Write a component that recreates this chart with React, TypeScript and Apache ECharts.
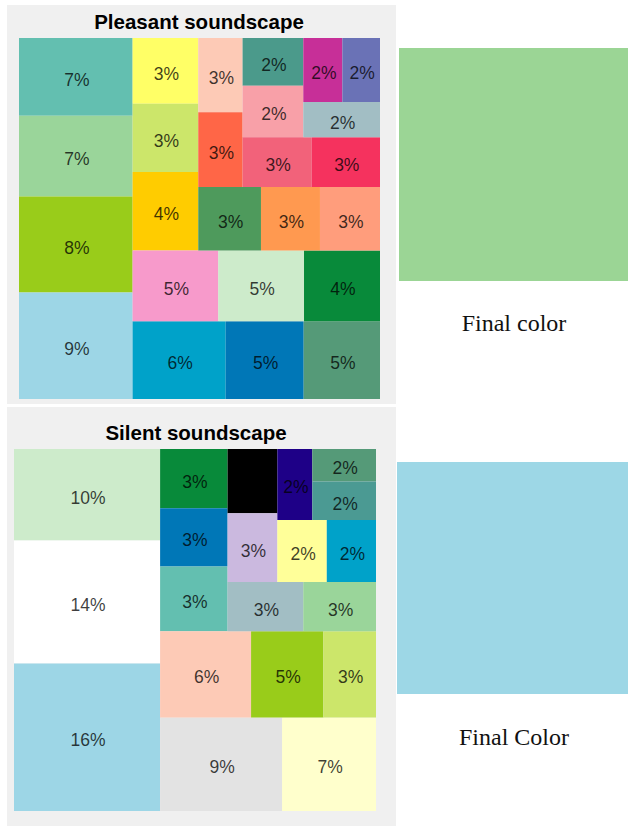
import React, { useEffect, useRef } from "react";
import * as echarts from "echarts";

// ---------- Pleasant soundscape (shares in %) ----------
const pLeft = [6.78, 7.04, 8.38, 9.28];
const pLeftColors = ["#63BFB0", "#9AD59A", "#99CC1A", "#9DD6E6"];
const pCol1 = [3.31, 3.45, 3.95];
const pCol1Colors = ["#FFFF66", "#CCE66A", "#FFCC00"];
const pCol2 = [2.53, 2.54];
const pCol2Colors = ["#FDCAB6", "#FF6647"];
const pCol3 = [2.22, 2.41];
const pCol3Colors = ["#4B9A8B", "#F8A0A8"];
const pTopRight = [1.92, 1.85, 2.08];
const pTopRightColors = ["#C72F98", "#6A72B6", "#A2BEC4"];
const pRow3 = [2.63, 2.61];
const pRow3Colors = ["#F2627A", "#F5325E"];
const pRow4 = [3.05, 2.87, 2.92];
const pRow4Colors = ["#4E9A5C", "#FF9950", "#FF9D7C"];
const pRow5 = [4.67, 4.67, 4.14];
const pRow5Colors = ["#F79ACB", "#CDEBCB", "#088A3A"];
const pRow6 = [5.55, 4.65, 4.55];
const pRow6Colors = ["#00A2C9", "#0077B7", "#559A78"];

// ---------- Silent soundscape (shares in %) ----------
const sLeft = [10.21, 13.71, 16.47];
const sLeftColors = ["#CDEBCB", "#FFFFFF", "#9DD6E6"];
const sCol = [3.05, 3.01, 3.33];
const sColColors = ["#088A3A", "#0077B7", "#63BFB0"];
const sMidCol = [2.44, 2.61];
const sMidColColors = ["#000000", "#CBB9DF"];
const sMidColLabel = [false, true];
const sNavy = [1.89];
const sNavyColors = ["#1E0087"];
const sRightCol = [1.58, 1.87];
const sRightColColors = ["#559A78", "#4B9A93"];
const sBotBand = [2.34, 2.33];
const sBotBandColors = ["#FFFF99", "#00A2C9"];
const sRowLow = [2.85, 2.74];
const sRowLowColors = ["#A2BEC4", "#9AD59A"];
const sRowMid = [6.0, 4.77, 3.47];
const sRowMidColors = ["#FDCAB6", "#99CC1A", "#CCE66A"];
const sRowBottom = [8.7, 6.7];
const sRowBottomColors = ["#E3E3E3", "#FFFFCC"];

// ---------- Final colours ----------
const finalPleasantColor = "#9BD595";
const finalSilentColor = "#9DD7E6";
const titles = ["Pleasant soundscape", "Silent soundscape"];
const finalLabels = ["Final color", "Final Color"];

let uid = 0;
function leaves(values: number[], colors: string[], showLabel?: boolean[]) {
  return values.map((v, i) => {
    uid += 1;
    const node: any = { name: "c" + uid, value: v, itemStyle: { color: colors[i] } };
    if (showLabel && showLabel[i] === false) node.label = { show: false };
    return node;
  });
}
function group(name: string, children: any[]) {
  return { name, children };
}

function pleasantTree() {
  return [
    group("pL", leaves(pLeft, pLeftColors)),
    group("pR", [
      group("pTR5", [
        group("pT", [
          ...leaves(pCol1, pCol1Colors),
          group("pT2", [
            group("pU", [
              ...leaves(pCol2, pCol2Colors),
              group("pV", [
                group("pV1", [
                  ...leaves(pCol3, pCol3Colors),
                  group("pV2", leaves(pTopRight, pTopRightColors)),
                ]),
                group("pRow3", leaves(pRow3, pRow3Colors)),
              ]),
            ]),
            group("pRow4", leaves(pRow4, pRow4Colors)),
          ]),
        ]),
        group("pRow5", leaves(pRow5, pRow5Colors)),
      ]),
      group("pRow6", leaves(pRow6, pRow6Colors)),
    ]),
  ];
}

function silentTree() {
  return [
    group("sL", leaves(sLeft, sLeftColors)),
    group("sR", [
      group("sUR", [
        group("sU", [
          ...leaves(sCol, sColColors),
          group("sU2", [
            group("sW", [
              ...leaves(sMidCol, sMidColColors, sMidColLabel),
              group("sW2", [
                group("sTB", [
                  ...leaves(sNavy, sNavyColors),
                  group("sRC", leaves(sRightCol, sRightColColors)),
                ]),
                group("sBB", leaves(sBotBand, sBotBandColors)),
              ]),
            ]),
            group("sBR", leaves(sRowLow, sRowLowColors)),
          ]),
        ]),
        group("sRow", leaves(sRowMid, sRowMidColors)),
      ]),
      group("sBot", leaves(sRowBottom, sRowBottomColors)),
    ]),
  ];
}

const labelStyle = {
  show: true,
  position: "inside",
  padding: 0,
  overflow: "none",
  offset: [1, 3],
  color: "rgba(0,0,0,0.76)",
  fontFamily: "Liberation Sans, Arial, sans-serif",
  fontSize: 17.5,
  formatter: (p: any) => Math.round(p.value) + "%",
};

function treemapSeries(data: any[], left: number, top: number, size: number) {
  return {
    type: "treemap",
    left,
    top,
    width: size,
    height: size,
    sort: false,
    squareRatio: 1.05,
    roam: false,
    nodeClick: false,
    breadcrumb: { show: false },
    itemStyle: { borderWidth: 0, gapWidth: 0, borderColor: "rgba(0,0,0,0)" },
    upperLabel: { show: false },
    label: labelStyle,
    emphasis: { disabled: true },
    data,
  };
}

function swatchSeries(name: string, color: string, left: number, top: number, width: number, height: number) {
  return {
    type: "treemap",
    left,
    top,
    width,
    height,
    roam: false,
    nodeClick: false,
    breadcrumb: { show: false },
    itemStyle: { borderWidth: 0, gapWidth: 0 },
    label: { show: false },
    emphasis: { disabled: true },
    data: [{ name, value: 1, itemStyle: { color } }],
  };
}

export default function App() {
  const ref = useRef<HTMLDivElement>(null);
  useEffect(() => {
    if (!ref.current) return;
    const chart = echarts.init(ref.current, undefined, { renderer: "svg" });
    uid = 0;
    const titleFont = "bold 20.5px 'Liberation Sans', Arial, sans-serif";
    const capFont = "24px 'Liberation Serif', 'Times New Roman', serif";
    chart.setOption({
      animation: false,
      backgroundColor: "#ffffff",
      graphic: [
        { type: "rect", z: -10, shape: { x: 7, y: 5, width: 389, height: 399 }, style: { fill: "#F0F0F0" } },
        { type: "rect", z: -10, shape: { x: 7, y: 407, width: 389, height: 419 }, style: { fill: "#F0F0F0" } },
        {
          type: "text",
          x: 199,
          y: 21,
          style: { text: titles[0], font: titleFont, fill: "#000", align: "center", verticalAlign: "middle" },
        },
        {
          type: "text",
          x: 196,
          y: 432,
          style: { text: titles[1], font: titleFont, fill: "#000", align: "center", verticalAlign: "middle" },
        },
        {
          type: "text",
          x: 514,
          y: 323,
          style: { text: finalLabels[0], font: capFont, fill: "#111", align: "center", verticalAlign: "middle" },
        },
        {
          type: "text",
          x: 514,
          y: 737,
          style: { text: finalLabels[1], font: capFont, fill: "#111", align: "center", verticalAlign: "middle" },
        },
      ],
      series: [
        treemapSeries(pleasantTree(), 19, 38, 361),
        treemapSeries(silentTree(), 14, 449, 362),
        swatchSeries("Final pleasant", finalPleasantColor, 399, 48, 229, 233),
        swatchSeries("Final silent", finalSilentColor, 397, 462, 231, 232),
      ],
    });
    return () => chart.dispose();
  }, []);
  return (
    <div
      ref={ref}
      style={{ position: "absolute", left: 0, top: 0, width: 628, height: 826 }}
    />
  );
}
